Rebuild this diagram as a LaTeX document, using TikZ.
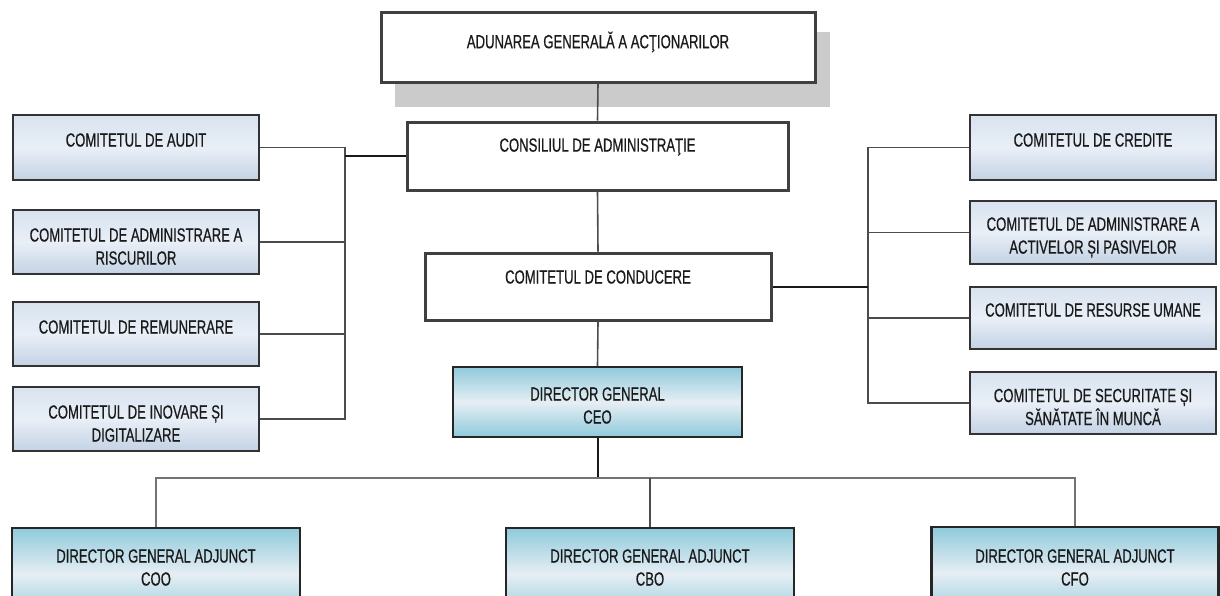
\documentclass[tikz,border=0pt]{standalone}
\usepackage{fontspec}
\setmainfont[FakeStretch=0.69,FakeBold=0.6]{Liberation Sans}
\definecolor{txtc}{HTML}{1A1A1A}
\definecolor{ctop}{HTML}{D8E3EF}
\definecolor{cmid}{HTML}{E9EFF7}
\definecolor{cbot}{HTML}{C3D2E4}
\definecolor{dtop}{HTML}{8FCADB}
\definecolor{dmid}{HTML}{E6EEF4}
\definecolor{shad}{HTML}{CBCBCB}
\begin{document}
\begin{tikzpicture}[x=1pt,y=-1pt,
  whitebox/.style={draw=black!75,line width=3pt,fill=white,inner sep=0pt},
  combox/.style={draw=black!80,line width=2pt,inner sep=0pt,minimum width=246pt,
    top color=ctop,bottom color=cbot,middle color=cmid},
  dirbox/.style={draw=black!85,line width=2.5pt,inner sep=0pt,
    top color=dtop,bottom color=dtop,middle color=dmid},
  txt/.style={align=center,text=txtc,font=\fontsize{19}{23}\selectfont,inner sep=0pt},
  conn/.style={draw=black!70,line width=1.6pt},
  thick conn/.style={draw=black!90,line width=2pt}]
\useasboundingbox (0,0) rectangle (1220,595);
\clip (0,0) rectangle (1220,595);
% shadow of top box
\fill[shad] (395,32) rectangle (830,107);
% main column
\node[whitebox,minimum width=434pt,minimum height=70pt] (aga) at (598,47) {};
\node[txt] at (598,42) {ADUNAREA GENERALĂ A ACŢIONARILOR};
\node[whitebox,minimum width=381pt,minimum height=68pt] (ca) at (597.5,156) {};
\node[txt] at (597.5,147) {CONSILIUL DE ADMINISTRAŢIE};
\node[whitebox,minimum width=346pt,minimum height=67pt] (cc) at (598,286.5) {};
\node[txt] at (598,277) {COMITETUL DE CONDUCERE};
\node[dirbox,minimum width=289pt,minimum height=70pt] (ceo) at (597.5,402) {};
\node[txt] at (597.5,405.5) {DIRECTOR GENERAL\\CEO};
% left committees
\node[combox,minimum height=65pt] (audit) at (136,147.5) {};
\node[txt] at (136,140) {COMITETUL DE AUDIT};
\node[combox,minimum height=64pt] (risc) at (136,242) {};
\node[txt] at (136,246.5) {COMITETUL DE ADMINISTRARE A\\RISCURILOR};
\node[combox,minimum height=64pt] (rem) at (136,334) {};
\node[txt] at (136,327) {COMITETUL DE REMUNERARE};
\node[combox,minimum height=64pt] (inov) at (136,419) {};
\node[txt] at (136,423.5) {COMITETUL DE INOVARE ȘI\\DIGITALIZARE};
% right committees
\node[combox,minimum height=65pt] (cred) at (1093,147.5) {};
\node[txt] at (1093,140) {COMITETUL DE CREDITE};
\node[combox,minimum height=63pt] (alm) at (1093,232.5) {};
\node[txt] at (1093,237.5) {COMITETUL DE ADMINISTRARE A\\ACTIVELOR ȘI PASIVELOR};
\node[combox,minimum height=62pt] (ru) at (1093,318) {};
\node[txt] at (1093,310) {COMITETUL DE RESURSE UMANE};
\node[combox,minimum height=62pt] (ssm) at (1093,403) {};
\node[txt] at (1093,407) {COMITETUL DE SECURITATE ȘI\\SĂNĂTATE ÎN MUNCĂ};
% bottom directors
\node[dirbox,minimum width=288pt,minimum height=92pt] (coo) at (156,574) {};
\node[txt] at (156,567.5) {DIRECTOR GENERAL ADJUNCT\\COO};
\node[dirbox,minimum width=288pt,minimum height=92pt] (cbo) at (650,574) {};
\node[txt] at (650,567.5) {DIRECTOR GENERAL ADJUNCT\\CBO};
\node[dirbox,minimum width=287pt,minimum height=92pt] (cfo) at (1075,573) {};
\node[txt] at (1075,567.5) {DIRECTOR GENERAL ADJUNCT\\CFO};
% bus coordinates
\coordinate (lbus) at (345,0);
\coordinate (rbus) at (868,0);
\coordinate (hb) at (0,478);
% vertical spine
\draw[conn] (aga.south) -- (ca.north);
\draw[conn] (ca.south) -- (cc.north);
\draw[conn] (cc.south) -- (ceo.north);
\draw[thick conn] (ceo.south) -- (ceo.south |- hb);
% left bus
\draw[conn] (audit.east) -- (audit.east -| lbus) -- (inov.east -| lbus) -- (inov.east);
\draw[conn] (risc.east) -- (risc.east -| lbus);
\draw[conn] (rem.east) -- (rem.east -| lbus);
\draw[thick conn] (ca.west) -- (ca.west -| lbus);
% right bus
\draw[conn] (cred.west) -- (cred.west -| rbus) -- (ssm.west -| rbus) -- (ssm.west);
\draw[conn] (alm.west) -- (alm.west -| rbus);
\draw[conn] (ru.west) -- (ru.west -| rbus);
\draw[thick conn] (cc.east) -- (cc.east -| rbus);
% bottom bus
\draw[conn,line width=2.2pt,draw=black!55] (coo.north) -- (coo.north |- hb) -- (cfo.north |- hb) -- (cfo.north);
\draw[conn] (cbo.north) -- (cbo.north |- hb);
\end{tikzpicture}
\end{document}
